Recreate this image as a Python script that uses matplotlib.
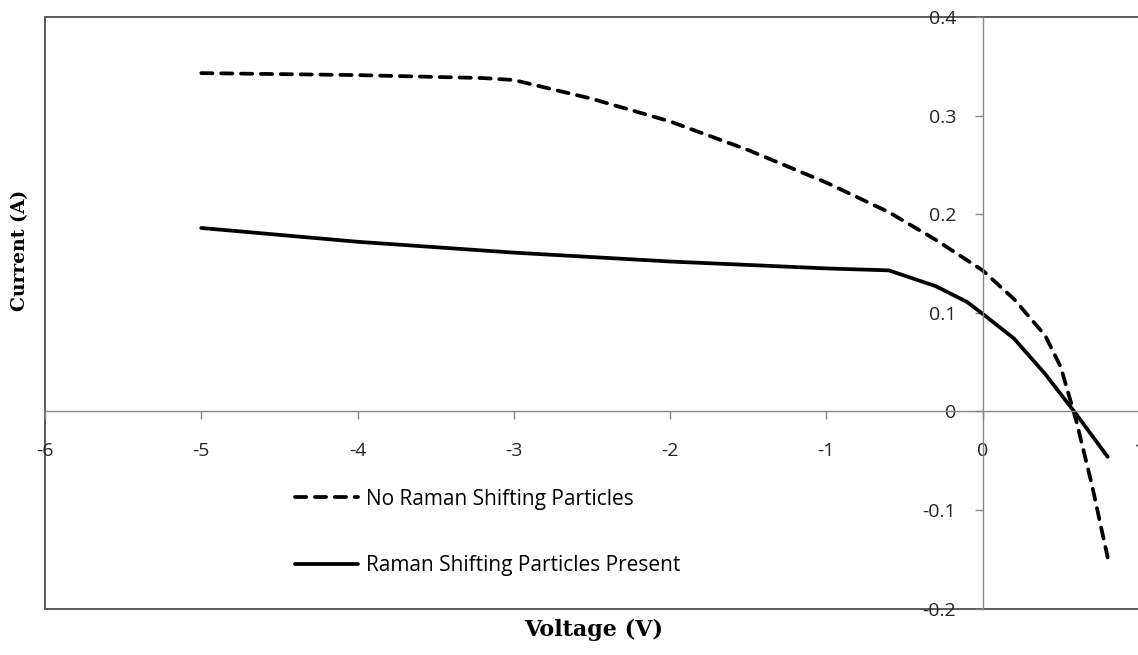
import matplotlib
matplotlib.use("Agg")
import matplotlib.pyplot as plt
import matplotlib.patches as patches

# Voltage (V) / current (A)
v_none = [-5.0, -4.0, -3.2, -3.0, -2.5, -2.0, -1.5, -1.0, -0.6, -0.3, 0.0, 0.2, 0.4, 0.5, 0.6, 0.7, 0.8]
i_none = [0.343, 0.341, 0.338, 0.336, 0.317, 0.294, 0.265, 0.232, 0.202, 0.174, 0.143, 0.114, 0.077, 0.045, -0.01, -0.075, -0.148]

v_raman = [-5.0, -4.0, -3.0, -2.0, -1.0, -0.6, -0.3, -0.1, 0.0, 0.2, 0.4, 0.6, 0.8]
i_raman = [0.186, 0.172, 0.161, 0.152, 0.145, 0.143, 0.127, 0.111, 0.099, 0.074, 0.038, -0.003, -0.046]

labels = ["No Raman Shifting Particles", "Raman Shifting Particles Present"]
x_ticks = [-6, -5, -4, -3, -2, -1, 0, 1]
y_ticks = [-0.2, -0.1, 0, 0.1, 0.2, 0.3, 0.4]

tick_font = "Open Sans"
label_font = "DejaVu Serif"
axis_grey = "#868686"
frame_grey = "#5a5a5a"

fig = plt.figure(figsize=(11.38, 6.55), dpi=100)
ax = fig.add_axes([0.0395, 0.0707, 0.9613, 0.9035])

ax.plot(v_none, i_none, color="black", lw=2.7, linestyle=(0, (3.0, 2.3)),
        dash_capstyle="round", solid_capstyle="round", label=labels[0])
ax.plot(v_raman, i_raman, color="black", lw=2.7, solid_capstyle="round", label=labels[1])

ax.set_xlim(-6, 1)
ax.set_ylim(-0.2, 0.4)
ax.set_xticks(x_ticks)
ax.set_yticks(y_ticks)
ax.set_xticklabels([f"{t:g}" for t in x_ticks])
ax.set_yticklabels([f"{t:g}" for t in y_ticks])

# axes cross at the origin, plot area boxed separately
ax.spines["left"].set_position(("data", 0))
ax.spines["bottom"].set_position(("data", 0))
ax.spines["top"].set_visible(False)
ax.spines["right"].set_visible(False)
for s in ("left", "bottom"):
    ax.spines[s].set_color(axis_grey)
    ax.spines[s].set_linewidth(1.0)
ax.add_patch(patches.Rectangle((0, 0), 1, 1, transform=ax.transAxes, fill=False,
                               edgecolor=frame_grey, lw=1.4, clip_on=False, zorder=1))

ax.tick_params(axis="both", direction="out", length=6, width=1.0, color=axis_grey,
               labelsize=14, labelcolor="#262626")
ax.tick_params(axis="x", pad=16)
ax.tick_params(axis="y", pad=13)
for t in ax.get_xticklabels() + ax.get_yticklabels():
    t.set_fontfamily(tick_font)

ax.text(0.502, -0.036, "Voltage (V)", transform=ax.transAxes, ha="center", va="center",
        fontsize=16, fontweight="bold", family=label_font)
ax.text(-0.023, 0.606, "Current (A)", transform=ax.transAxes, ha="center", va="center",
        rotation=90, fontsize=13.5, fontweight="bold", family=label_font)

ax.legend(loc="upper left", bbox_to_anchor=(0.2285, 0.203), frameon=False,
          handlelength=3.05, handletextpad=0.38, labelspacing=2.2, borderpad=0,
          borderaxespad=0, prop={"family": tick_font, "size": 15})

fig.savefig("out.png", dpi=100)
